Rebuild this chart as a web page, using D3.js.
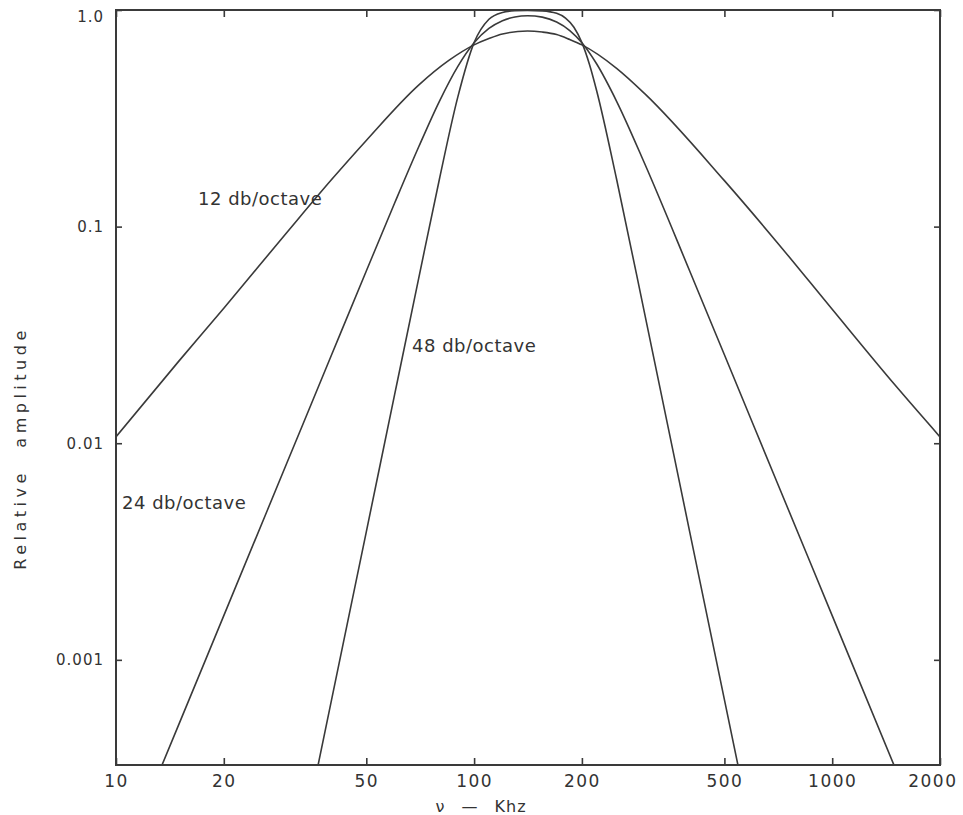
<!DOCTYPE html>
<html>
<head>
<meta charset="utf-8">
<script src="https://cdn.jsdelivr.net/npm/d3@7"></script>
<style>
  body { margin: 0; background: #fff; }
  text { font-family: "DejaVu Sans", sans-serif; fill: #333; }
</style>
</head>
<body>
<div id="chart"></div>
<script>
// values (kHz, relative amplitude)
const freq12 = [10, 15, 20, 30, 40, 50, 70, 85, 100, 110, 120, 141, 155, 170, 185, 200, 250, 300, 500, 700, 1000, 1500, 2000]
const amp12 = [0.0107, 0.024, 0.042, 0.094, 0.165, 0.25, 0.45, 0.585, 0.69, 0.738, 0.775, 0.80, 0.791, 0.77, 0.73, 0.69, 0.538, 0.41, 0.163, 0.085, 0.0415, 0.0185, 0.0107]

const freq24 = [13, 15, 20, 30, 40, 50, 60, 70, 80, 90, 100, 110, 120, 130, 141, 155, 170, 185, 200, 220, 250, 300, 400, 500, 700, 1000, 1500, 1600]
const amp24 = [0.000286, 0.000506, 0.0016, 0.0081, 0.0256, 0.0624, 0.1285, 0.233, 0.379, 0.548, 0.706, 0.822, 0.893, 0.929, 0.941, 0.927, 0.880, 0.804, 0.706, 0.563, 0.379, 0.194, 0.0624, 0.0256, 0.00666, 0.0016, 0.000316, 0.000244]

const freq48 = [35, 40, 50, 60, 70, 80, 90, 100, 110, 120, 130, 141, 155, 170, 180, 190, 200, 210, 220, 250, 300, 400, 500, 560]
const amp48 = [0.000225, 0.000655, 0.0039, 0.0168, 0.0575, 0.1655, 0.395, 0.707, 0.906, 0.974, 0.992, 0.996, 0.991, 0.965, 0.918, 0.833, 0.707, 0.5605, 0.423, 0.1655, 0.039, 0.0039, 0.000655, 0.000265]

const xTicks = [10, 20, 50, 100, 200, 500, 1000, 2000]
const yTicks = [1, 0.1, 0.01, 0.001]
const yTickLabels = ["1.0", "0.1", "0.01", "0.001"]

const width = 963
const height = 815
const plotLeft = 116, plotRight = 940, plotTop = 10, plotBottom = 765
const ink = "#3a3a3a"

const svg = d3.select("#chart")
    .append("svg")
    .attr("width", width)
    .attr("height", height)
    .style("background", "#fff")

const x = d3.scaleLog().domain([10, 2000]).range([plotLeft, plotRight])
const y = d3.scaleLog().domain([0.000327, 1]).range([plotBottom, plotTop])

svg.append("clipPath")
    .attr("id", "plot")
  .append("rect")
    .attr("x", plotLeft).attr("y", plotTop)
    .attr("width", plotRight - plotLeft).attr("height", plotBottom - plotTop)

const line = d3.line()
    .x(d => x(d[0]))
    .y(d => y(d[1]))
    .curve(d3.curveMonotoneX)

const curves = [
  [freq12, amp12],
  [freq24, amp24],
  [freq48, amp48]
]

curves.forEach(([fs, as]) => {
  svg.append("path")
      .datum(fs.map((f, i) => [f, as[i]]))
      .attr("clip-path", "url(#plot)")
      .attr("d", line)
      .attr("fill", "none")
      .attr("stroke", ink)
      .attr("stroke-width", 1.6)
})

// axes, ticks pointing inward on all four sides
function styleAxis(g) {
  g.select(".domain").remove()
  g.selectAll(".tick line").attr("stroke", ink).attr("stroke-width", 1.6)
}

svg.append("g")
    .attr("transform", `translate(0,${plotBottom})`)
    .call(d3.axisBottom(x).tickValues(xTicks).tickFormat(d3.format("d"))
      .tickSizeInner(-7).tickSizeOuter(0).tickPadding(10))
    .call(styleAxis)
    .call(g => g.selectAll("text")
      .style("font-size", "17px")
      .style("letter-spacing", "1.5px")
      .attr("fill", "#333"))
    // last label sits a little left of its tick so it stays on the page
    .call(g => g.selectAll(".tick").filter(d => d === 2000)
      .select("text").attr("dx", "-0.45em"))

svg.append("g")
    .attr("transform", `translate(0,${plotTop})`)
    .call(d3.axisTop(x).tickValues(xTicks).tickFormat("")
      .tickSizeInner(-7).tickSizeOuter(0))
    .call(styleAxis)

svg.append("g")
    .attr("transform", `translate(${plotLeft},0)`)
    .call(d3.axisLeft(y).tickValues(yTicks).tickFormat((d, i) => yTickLabels[i])
      .tickSizeInner(-6).tickSizeOuter(0).tickPadding(12))
    .call(styleAxis)
    .call(g => g.selectAll("text")
      .style("font-size", "15px")
      .style("letter-spacing", "1px")
      .attr("fill", "#333"))
    .call(g => g.selectAll(".tick").filter(d => d === 1)
      .select("text").attr("dy", "0.75em"))

svg.append("g")
    .attr("transform", `translate(${plotRight},0)`)
    .call(d3.axisRight(y).tickValues(yTicks).tickFormat("")
      .tickSizeInner(-6).tickSizeOuter(0))
    .call(styleAxis)

// frame
svg.append("rect")
    .attr("x", plotLeft).attr("y", plotTop)
    .attr("width", plotRight - plotLeft).attr("height", plotBottom - plotTop)
    .attr("fill", "none")
    .attr("stroke", ink)
    .attr("stroke-width", 2)

// curve labels
const labels = [
  { text: "12 db/octave", x: 198, y: 205 },
  { text: "48 db/octave", x: 412, y: 352 },
  { text: "24 db/octave", x: 122, y: 509 }
]
svg.selectAll(".curve-label")
    .data(labels)
    .join("text")
    .attr("class", "curve-label")
    .attr("x", d => d.x)
    .attr("y", d => d.y)
    .style("font-size", "18px")
    .style("letter-spacing", "0.5px")
    .text(d => d.text)

// axis titles
svg.append("text")
    .attr("x", 481)
    .attr("y", 812)
    .attr("text-anchor", "middle")
    .style("font-size", "16px")
    .style("letter-spacing", "1px")
    .style("word-spacing", "10px")
    .text("ν — Khz")

svg.append("text")
    .attr("transform", "translate(26,448) rotate(-90)")
    .attr("text-anchor", "middle")
    .style("font-size", "16px")
    .style("letter-spacing", "4.5px")
    .style("word-spacing", "12px")
    .text("Relative amplitude")
</script>
</body>
</html>
